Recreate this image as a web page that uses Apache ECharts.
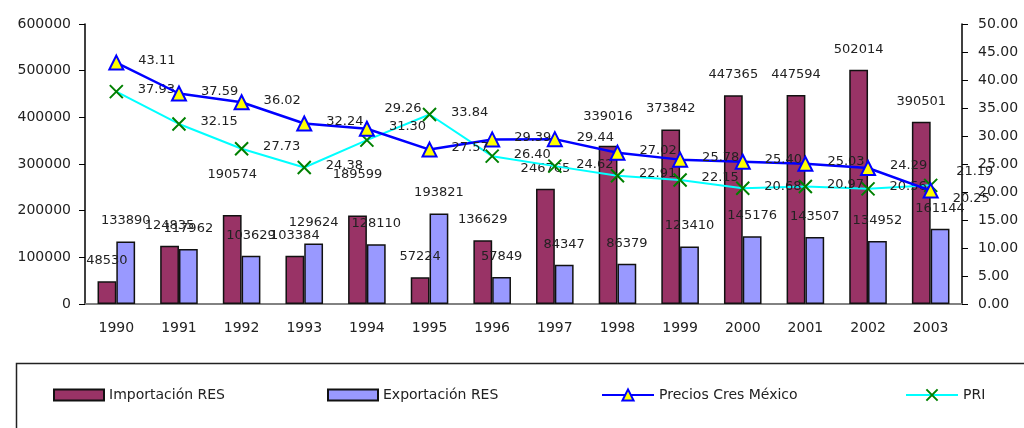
<!DOCTYPE html>
<html>
<head>
<meta charset="utf-8">
<script src="https://cdn.jsdelivr.net/npm/echarts@6/dist/echarts.min.js"></script>
<style>
  html, body { margin: 0; padding: 0; background: #fff; }
  #chart { width: 1024px; height: 428px; }
</style>
</head>
<body>
<div id="chart"></div>
<script>
// datos
const years = ['1990', '1991', '1992', '1993', '1994', '1995', '1996',
  '1997', '1998', '1999', '2000', '2001', '2002', '2003'];
const importacion = [48530, 124835, 190574, 103384, 189599, 57224, 136629,
  246765, 339016, 373842, 447365, 447594, 502014, 390501];
const exportacion = [133890, 117962, 103629, 129624, 128110, 193821, 57849,
  84347, 86379, 123410, 145176, 143507, 134952, 161144];
const precios = [43.11, 37.59, 36.02, 32.24, 31.30, 27.57, 29.39,
  29.44, 27.02, 25.78, 25.40, 25.03, 24.29, 20.25];
const pri = [37.93, 32.15, 27.73, 24.38, 29.26, 33.84, 26.40,
  24.62, 22.91, 22.15, 20.68, 20.97, 20.56, 21.19];

const FONT = 'DejaVu Sans';
const chart = echarts.init(document.getElementById('chart'));

// etiquetas que Excel movio para que no se tapen
const importNudge = { 2: [0, -20], 4: [0, -20], 8: [0, -9] };
const priNudge = { 4: [-4, -32], 13: [4, -14] };
const preciosNudge = { 13: [0, 8] };

const barLabel = {
  show: true,
  position: 'top',
  distance: 14,
  color: '#222',
  fontFamily: FONT,
  fontSize: 13
};
const lineLabel = {
  show: true,
  position: 'right',
  distance: 14,
  offset: [0, -2],
  color: '#222',
  fontFamily: FONT,
  fontSize: 13,
  formatter: p => p.value.toFixed(2)
};
const withNudge = (values, nudge) => values.map((v, i) =>
  nudge[i] ? { value: v, label: { offset: nudge[i] } } : v);

const legendText = { fontFamily: FONT, fontSize: 14, color: '#222' };
const crossPath = 'path://M0,0L10,10M10,0L0,10';
const legendBase = { top: 388, padding: 0, itemGap: 0, textStyle: legendText };

const option = {
  animation: false,
  textStyle: { fontFamily: FONT },
  grid: { left: 85, right: 62, top: 24, bottom: 124 },
  legend: [
    Object.assign({ data: [{ name: 'Importación RES', icon: 'rect' }], left: 53, itemWidth: 50, itemHeight: 11 }, legendBase),
    Object.assign({ data: [{ name: 'Exportación RES', icon: 'rect' }], left: 327, itemWidth: 50, itemHeight: 11 }, legendBase),
    Object.assign({ data: ['Precios Cres México'], left: 601, itemWidth: 52, itemHeight: 14 }, legendBase),
    Object.assign({ data: ['PRI'], left: 905, itemWidth: 52, itemHeight: 14 }, legendBase)
  ],
  graphic: [{
    type: 'rect',
    left: 14, top: 361,
    shape: { width: 1100, height: 120 },
    style: { fill: 'none', stroke: '#222', lineWidth: 1.5 },
    silent: true
  }],
  xAxis: [{
    type: 'category',
    data: years,
    axisLine: { lineStyle: { color: '#000', width: 1.5 } },
    axisTick: { length: 8, lineStyle: { color: '#000' } },
    axisLabel: { color: '#222', fontSize: 14, margin: 17, fontFamily: FONT }
  }, {
    type: 'category',
    data: years,
    position: 'top',
    axisLine: { lineStyle: { color: '#999', width: 1.5 } },
    axisTick: { show: false },
    axisLabel: { show: false }
  }],
  yAxis: [{
    type: 'value',
    min: 0, max: 600000, interval: 100000,
    axisLine: { show: true, lineStyle: { color: '#000', width: 1.5 } },
    axisTick: { show: true, length: 6, lineStyle: { color: '#000' } },
    splitLine: { show: false },
    axisLabel: { color: '#222', fontSize: 14, margin: 14, fontFamily: FONT,
      formatter: v => String(v) }
  }, {
    type: 'value',
    position: 'right',
    min: 0, max: 50, interval: 5,
    axisLine: { show: true, lineStyle: { color: '#000', width: 1.5 } },
    axisTick: { show: true, length: 6, lineStyle: { color: '#000' } },
    splitLine: { show: false },
    axisLabel: { color: '#222', fontSize: 14, margin: 16, fontFamily: FONT,
      formatter: v => v.toFixed(2) }
  }],
  series: [{
    name: 'Importación RES',
    type: 'bar',
    data: withNudge(importacion, importNudge),
    barWidth: '30%',
    barGap: '0%',
    itemStyle: { color: '#993366', borderColor: '#111', borderWidth: 1.5 },
    label: barLabel
  }, {
    name: 'Exportación RES',
    type: 'bar',
    data: exportacion,
    barWidth: '30%',
    itemStyle: { color: '#9999FF', borderColor: '#111', borderWidth: 1.5 },
    label: barLabel
  }, {
    name: 'Precios Cres México',
    type: 'line',
    yAxisIndex: 1,
    data: withNudge(precios, preciosNudge),
    symbol: 'triangle',
    symbolSize: 14,
    lineStyle: { color: '#0000FF', width: 2.5 },
    itemStyle: { color: '#FFFF00', borderColor: '#0000FF', borderWidth: 2 },
    label: lineLabel,
    z: 4
  }, {
    name: 'PRI',
    type: 'line',
    yAxisIndex: 1,
    data: withNudge(pri, priNudge),
    symbol: crossPath,
    symbolSize: 13,
    symbolKeepAspect: true,
    lineStyle: { color: '#00FFFF', width: 2 },
    itemStyle: { color: '#008000', borderColor: '#008000', borderWidth: 2 },
    label: lineLabel,
    z: 3
  }]
};

chart.setOption(option);
</script>
</body>
</html>
